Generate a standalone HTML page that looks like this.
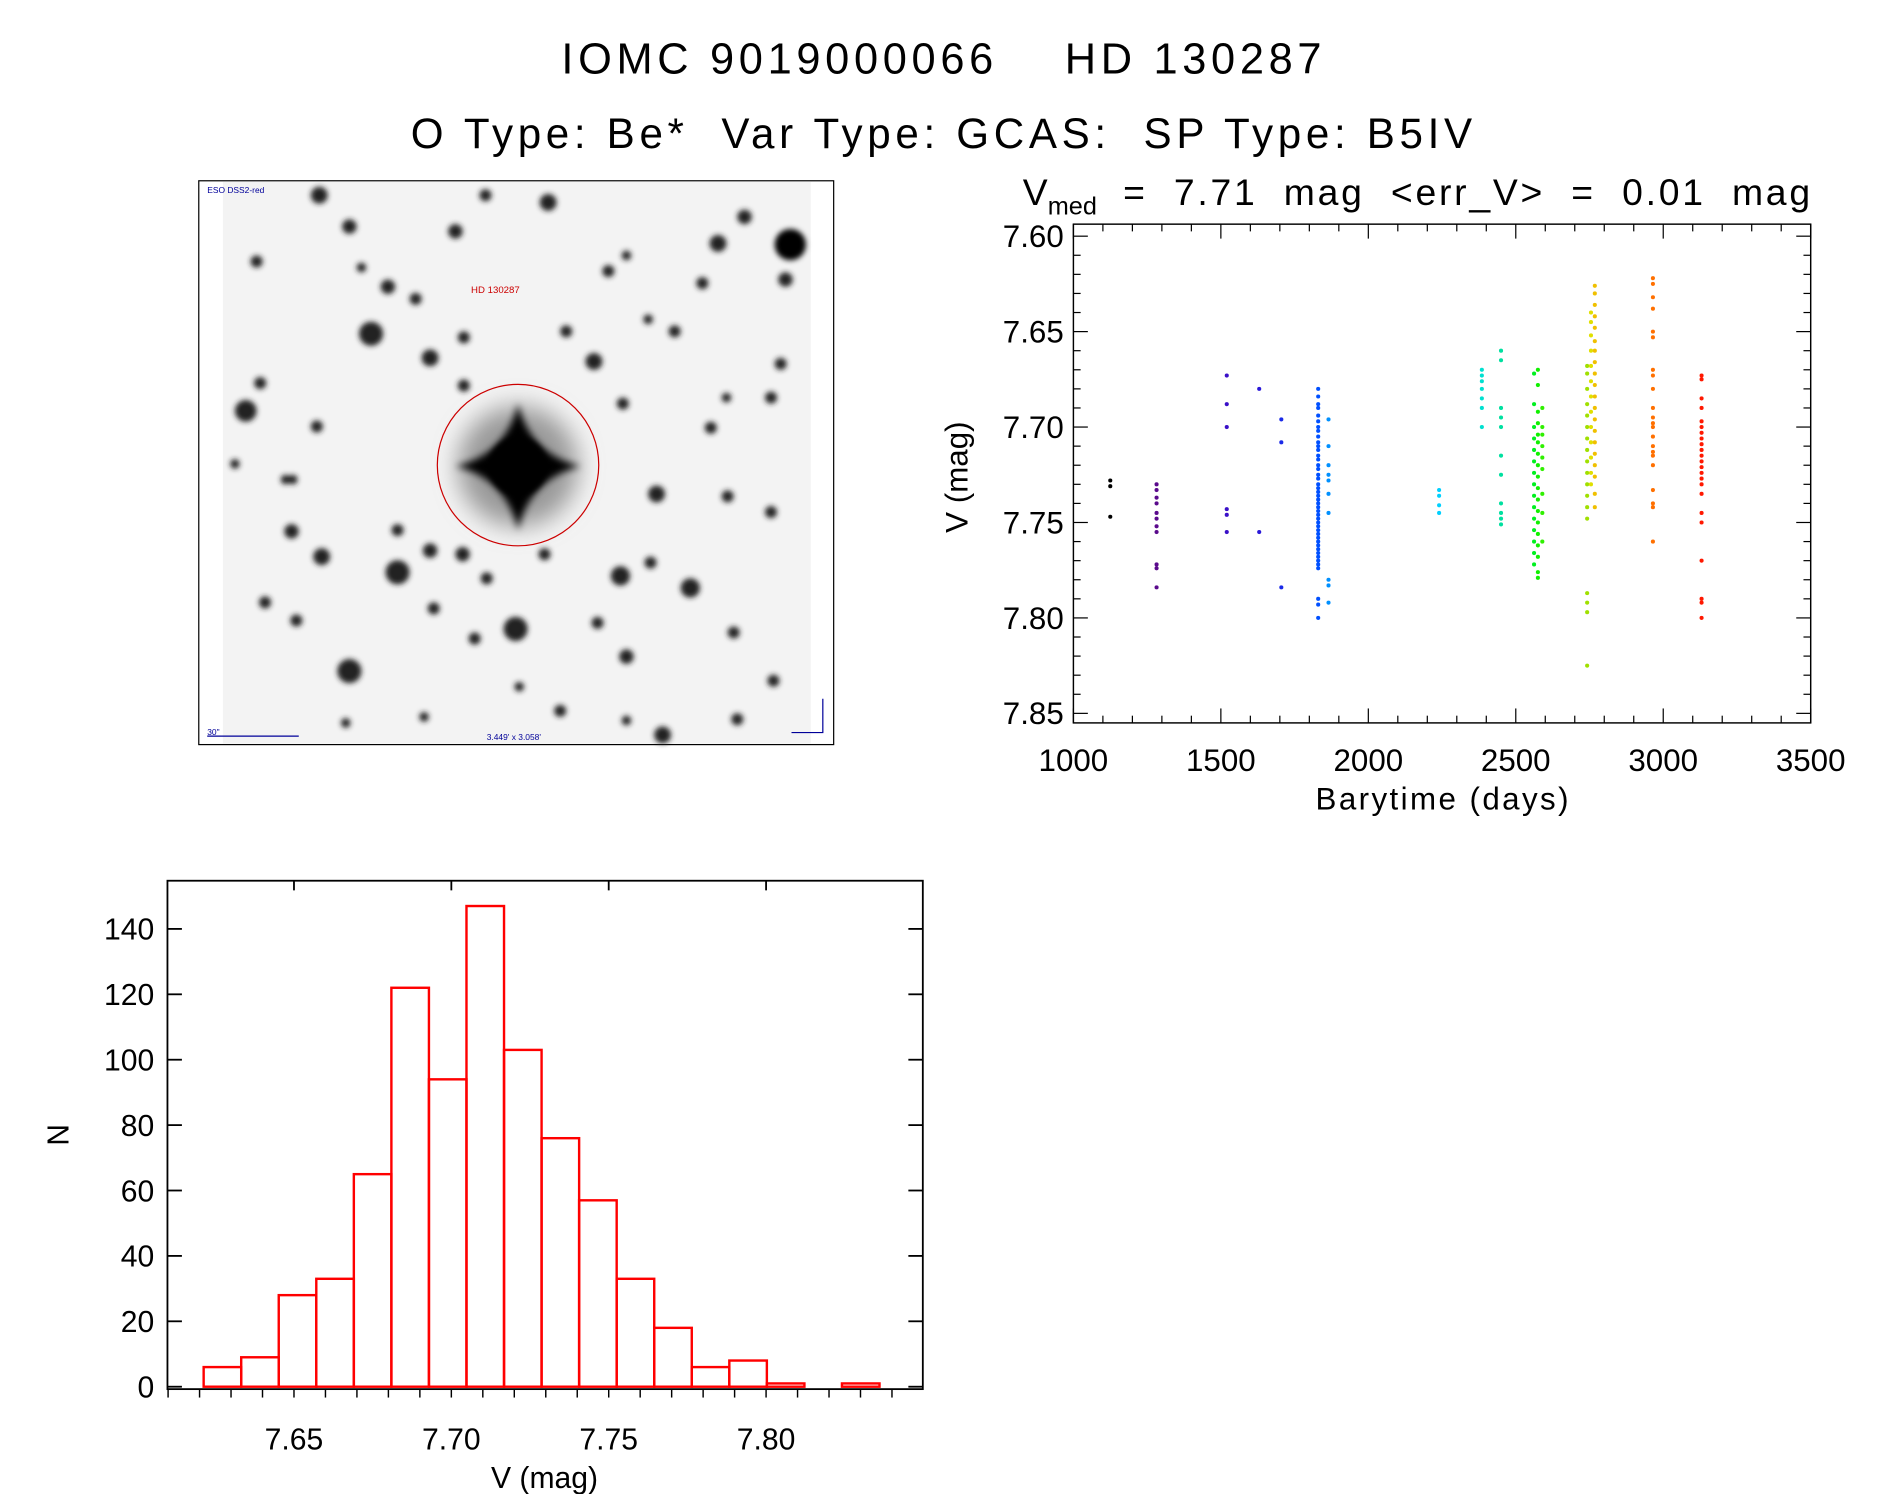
<!DOCTYPE html>
<html><head><meta charset="utf-8"><style>
html,body{margin:0;padding:0;background:#fff;}
svg{display:block;font-family:"Liberation Sans",sans-serif;}
</style></head><body>
<svg id="fig" width="1889" height="1494" viewBox="0 0 1568 1240" xmlns="http://www.w3.org/2000/svg">
<defs>
<filter id="blur" x="-50%" y="-50%" width="200%" height="200%"><feGaussianBlur stdDeviation="2.2"/></filter>
<filter id="blur2" x="-50%" y="-50%" width="200%" height="200%"><feGaussianBlur stdDeviation="3"/></filter>
<filter id="blur3" x="-50%" y="-50%" width="200%" height="200%"><feGaussianBlur stdDeviation="10"/></filter>
</defs>
<text x="466" y="61" font-size="36" textLength="631" lengthAdjust="spacing" xml:space="preserve">IOMC 9019000066    HD 130287</text>
<text x="341" y="123" font-size="35" textLength="881" lengthAdjust="spacing" xml:space="preserve">O Type: Be*  Var Type: GCAS:  SP Type: B5IV</text>

<g id="img">
<rect x="165" y="150" width="527" height="468" fill="#fff" stroke="#000" stroke-width="1"/>
<rect x="185" y="151" width="488" height="466" fill="#f3f3f3"/>
<g id="stars" filter="url(#blur)"></g>
<g>
<line x1="275" y1="387" x2="560" y2="387" stroke="#888" stroke-width="3" filter="url(#blur)"/>
<line x1="430" y1="290" x2="430" y2="505" stroke="#888" stroke-width="3" filter="url(#blur)"/>
<circle cx="430" cy="387" r="50" fill="#999" filter="url(#blur3)"/>
<path d="M430 335 Q440 377 482 387 Q440 397 430 440 Q420 397 378 387 Q420 377 430 335 Z" fill="#000" filter="url(#blur2)"/>
<circle cx="430" cy="387" r="24" fill="#000" filter="url(#blur)"/>
</g>
<circle cx="430" cy="386" r="67" fill="none" stroke="#c00" stroke-width="1"/>
<text x="391" y="243" font-size="8" fill="#c00">HD 130287</text>
<text x="172" y="160" font-size="7" fill="#009">ESO DSS2-red</text>
<text x="172" y="610" font-size="7" fill="#009">30"</text>
<line x1="172" y1="611" x2="248" y2="611" stroke="#009" stroke-width="1"/>
<text x="404" y="614" font-size="7" fill="#009">3.449' x 3.058'</text>
<path d="M683 580 L683 608 L657 608" fill="none" stroke="#009" stroke-width="1"/>
</g>

<g id="lc"></g>
<g id="hist"></g>
</svg>
<script>
// ---------- light curve data ----------
const lcXTicks = [1000,1500,2000,2500,3000,3500];
const lcYTicks = [7.60,7.65,7.70,7.75,7.80,7.85];
const gBlackT=1125, gBlackV=[7.728,7.731,7.747];
const gPurpleT=1282, gPurpleV=[7.730,7.733,7.737,7.740,7.745,7.748,7.752,7.755,7.772,7.774,7.784];
const gViolet1T=1520, gViolet1V=[7.673,7.688,7.700,7.743,7.746,7.755];
const gViolet2T=1630, gViolet2V=[7.680,7.755];
const gViolet3T=1705, gViolet3V=[7.696,7.708,7.784];
const gBlueT=1830, gBlueV=[7.680,7.684,7.688,7.690,7.694,7.697,7.700,7.702,7.705,7.708,7.710,7.712,7.715,7.717,7.720,7.722,7.725,7.727,7.730,7.732,7.734,7.736,7.738,7.740,7.742,7.744,7.746,7.748,7.750,7.752,7.754,7.756,7.758,7.760,7.762,7.764,7.766,7.768,7.770,7.772,7.774,7.790,7.793,7.800];
const gLBlueT=1865, gLBlueV=[7.696,7.710,7.720,7.725,7.728,7.735,7.745,7.780,7.783,7.792];
const gCyanT=2240, gCyanV=[7.733,7.736,7.741,7.745];
const gTeal1T=2385, gTeal1V=[7.670,7.673,7.676,7.680,7.685,7.690,7.700];
const gTeal2T=2450, gTeal2V=[7.660,7.665,7.690,7.695,7.700,7.715,7.725,7.740,7.745,7.748,7.751];
const gGreen1T=2562, gGreen1V=[7.672,7.688,7.700,7.706,7.712,7.718,7.724,7.730,7.736,7.742,7.748,7.754,7.760,7.766,7.772];
const gGreen2T=2575, gGreen2V=[7.670,7.678,7.692,7.698,7.704,7.708,7.714,7.720,7.726,7.732,7.738,7.744,7.750,7.756,7.762,7.768,7.776,7.779];
const gGreen3T=2590, gGreen3V=[7.690,7.700,7.704,7.710,7.716,7.722,7.735,7.745,7.760];
const gLimeT=2742, gLimeV=[7.668,7.672,7.680,7.688,7.694,7.700,7.706,7.712,7.718,7.724,7.730,7.736,7.742,7.748,7.787,7.792,7.797,7.825];
const gYellow1T=2755, gYellow1V=[7.640,7.645,7.652,7.660,7.668,7.676,7.684,7.692,7.700,7.708,7.716,7.724,7.730];
const gYellow2T=2768, gYellow2V=[7.626,7.630,7.636,7.642,7.648,7.655,7.660,7.666,7.672,7.678,7.684,7.690,7.696,7.702,7.708,7.714,7.720,7.726,7.735,7.742];
const gOrangeT=2965, gOrangeV=[7.622,7.625,7.632,7.638,7.650,7.653,7.670,7.673,7.680,7.690,7.695,7.698,7.700,7.705,7.710,7.713,7.715,7.720,7.733,7.740,7.742,7.760];
const gRedT=3130, gRedV=[7.673,7.675,7.685,7.690,7.697,7.700,7.703,7.706,7.709,7.712,7.715,7.718,7.721,7.724,7.727,7.730,7.735,7.745,7.750,7.770,7.790,7.792,7.800];

// ---------- histogram data ----------
const histStart = 7.6213, histBin = 0.01193;
const histCounts = [6,9,28,33,65,122,94,147,103,76,57,33,18,6,8,1,0,1];
const histYTicks = [0,20,40,60,80,100,120,140];
const histXTicks = [7.65,7.70,7.75,7.80];

// ---------- sky image stars ----------
const starX=[265,290,378,403,455,596,652,213,300,322,345,308,357,385,493,470,505,520,583,560,538,204,216,263,385,517,590,603,640,648,195,237,545,604,640,242,267,330,357,384,404,452,515,573,540,330,360,428,394,520,496,290,246,220,609,642,550,612,465,431,520,352,287,618,243];
const starY=[162,188,192,162,168,202,232,217,222,238,248,277,297,280,300,275,225,212,235,275,265,341,318,354,320,335,355,330,330,302,385,398,410,412,425,441,462,440,457,460,480,460,478,488,467,475,505,522,530,545,517,557,515,500,525,565,610,597,590,570,598,595,600,180,398];
const starR=[6,5,5,4,6,6,5,4,3,5,4,9,6,4,6,4,4,3,4,4,3,8,4,4,4,4,4,3,4,4,3,3,6,4,4,5,6,4,5,5,4,4,7,7,4,9,4,9,4,5,4,9,4,4,4,4,6,4,4,3,3,3,3,5,3];

const NS='http://www.w3.org/2000/svg';
function mk(tag, attrs, parent){const e=document.createElementNS(NS,tag);for(const k in attrs)e.setAttribute(k,attrs[k]);parent.appendChild(e);return e;}

const sg=document.getElementById('stars');
starX.forEach((x,i)=>{const c=mk('circle',{cx:x,cy:starY[i],r:starR[i]+1,fill:'#222'},sg);

});
(function(){const c=mk('circle',{cx:656,cy:203,r:13,fill:'#000'},sg);

})();

// ---------- light curve ----------
const lc=document.getElementById('lc');
const L={x0:891,x1:1503,y0:186,y1:600};
const xMin=1000,xMax=3500,yTop=7.5937,yBot=7.855;
const lx=t=>L.x0+(t-xMin)/(xMax-xMin)*(L.x1-L.x0);
const ly=v=>L.y0+(v-yTop)/(yBot-yTop)*(L.y1-L.y0);
mk('rect',{x:L.x0,y:L.y0,width:L.x1-L.x0,height:L.y1-L.y0,fill:'none',stroke:'#000','stroke-width':1.2},lc);
for(let t=1000;t<=3500;t+=100){const maj=(t%500===0);const len=maj?12:6;
mk('line',{x1:lx(t),x2:lx(t),y1:L.y1,y2:L.y1-len,stroke:'#000','stroke-width':1},lc);
mk('line',{x1:lx(t),x2:lx(t),y1:L.y0,y2:L.y0+len,stroke:'#000','stroke-width':1},lc);}
for(let k=0;k<=25;k++){const v=7.60+k*0.01;const maj=(k%5===0);const len=maj?12:6;const y=ly(v);
mk('line',{x1:L.x0,x2:L.x0+len,y1:y,y2:y,stroke:'#000','stroke-width':1},lc);
mk('line',{x1:L.x1,x2:L.x1-len,y1:y,y2:y,stroke:'#000','stroke-width':1},lc);}
lcXTicks.forEach(t=>{const e=mk('text',{x:lx(t),y:640,'font-size':26,'text-anchor':'middle'},lc);e.textContent=t;

});
lcYTicks.forEach(v=>{const e=mk('text',{x:883,y:ly(v)+9,'font-size':26,'text-anchor':'end'},lc);e.textContent=v.toFixed(2);

});
(function(){let e=mk('text',{x:1092,y:672,'font-size':26,textLength:210,lengthAdjust:'spacing'},lc);e.textContent='Barytime (days)';


e=mk('text',{x:0,y:0,'font-size':26,'text-anchor':'middle',transform:'translate(803,396) rotate(-90)'},lc);e.textContent='V (mag)';


e=mk('text',{x:849,y:170,'font-size':31},lc);
e.innerHTML='V<tspan font-size="21" dy="8">med</tspan><tspan dy="-8" xml:space="preserve" textLength="592" lengthAdjust="spacing">  =  7.71  mag  &lt;err_V&gt;  =  0.01  mag</tspan>';

})();
const groups=[[gBlackT,gBlackV,'#000'],[gPurpleT,gPurpleV,'#5a0a8c'],[gViolet1T,gViolet1V,'#3a10c8'],[gViolet2T,gViolet2V,'#2a18d8'],[gViolet3T,gViolet3V,'#1a2ae8'],
[gBlueT,gBlueV,'#0050ff'],[gLBlueT,gLBlueV,'#0090ff'],[gCyanT,gCyanV,'#00d0ff'],[gTeal1T,gTeal1V,'#00e0d0'],[gTeal2T,gTeal2V,'#00e0a0'],
[gGreen1T,gGreen1V,'#00f020'],[gGreen2T,gGreen2V,'#10f000'],[gGreen3T,gGreen3V,'#30f000'],[gLimeT,gLimeV,'#a0e000'],[gYellow1T,gYellow1V,'#e0e000'],
[gYellow2T,gYellow2V,'#f0c000'],[gOrangeT,gOrangeV,'#ff7000'],[gRedT,gRedV,'#ff1800']];
groups.forEach(g=>{g[1].forEach(v=>{const c=mk('circle',{cx:lx(g[0]),cy:ly(v),r:1.7,fill:g[2]},lc);

});});

// ---------- histogram ----------
const hg=document.getElementById('hist');
const H={x0:139,x1:766,y0:731,y1:1153};
const hxMin=7.6098,hxMax=7.8498;
const hx=v=>H.x0+(v-hxMin)/(hxMax-hxMin)*(H.x1-H.x0);
const hy=n=>1151-n*(1151-771)/140;
mk('rect',{x:H.x0,y:H.y0,width:H.x1-H.x0,height:H.y1-H.y0,fill:'none',stroke:'#000','stroke-width':1.5},hg);
histYTicks.forEach(n=>{const y=hy(n);
mk('line',{x1:H.x0,x2:H.x0+12,y1:y,y2:y,stroke:'#000','stroke-width':1.5},hg);
mk('line',{x1:H.x1,x2:H.x1-12,y1:y,y2:y,stroke:'#000','stroke-width':1.5},hg);
const e=mk('text',{x:128,y:y+9,'font-size':25,'text-anchor':'end'},hg);e.textContent=n;

});
for(let k=0;k<=23;k++){const v=7.61+k*0.01;const x=hx(v);
mk('line',{x1:x,x2:x,y1:H.y1,y2:H.y1+7,stroke:'#000','stroke-width':1.2},hg);}
histXTicks.forEach(v=>{const x=hx(v);
mk('line',{x1:x,x2:x,y1:H.y0,y2:H.y0+8,stroke:'#000','stroke-width':1.5},hg);
const e=mk('text',{x:x,y:1203,'font-size':25,'text-anchor':'middle'},hg);e.textContent=v.toFixed(2);

});
histCounts.forEach((n,i)=>{const a=hx(histStart+i*histBin),b=hx(histStart+(i+1)*histBin);
const r=mk('rect',{x:a,y:hy(n),width:b-a,height:hy(0)-hy(n),fill:'none',stroke:'#f00','stroke-width':2},hg);

});
(function(){let e=mk('text',{x:452,y:1235,'font-size':25,'text-anchor':'middle'},hg);e.textContent='V (mag)';


e=mk('text',{x:0,y:0,'font-size':25,'text-anchor':'middle',transform:'translate(57,942) rotate(-90)'},hg);e.textContent='N';

})();
</script>
</body></html>
